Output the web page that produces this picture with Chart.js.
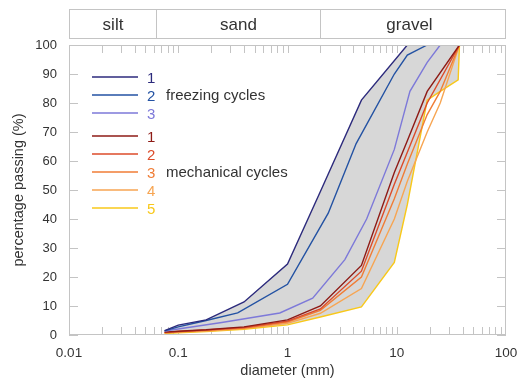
<!DOCTYPE html>
<html>
<head>
<meta charset="utf-8">
<script src="https://cdn.jsdelivr.net/npm/chart.js@4.4.1/dist/chart.umd.min.js"></script>
<style>
  html, body { margin: 0; padding: 0; background: #fff; }
</style>
</head>
<body>
<canvas id="chart" width="519" height="384"></canvas>
<script>
// axis ticks
const xTickValues = [0.01, 0.1, 1, 10, 100];
const yTickValues = [0, 10, 20, 30, 40, 50, 60, 70, 80, 90, 100];

// soil classes shown above the plot (mm)
const zoneNames = ["silt", "sand", "gravel"];
const zoneBounds = [0.01, 0.063, 2, 100];

// freezing cycles
const freeze1Size = [0.075, 0.1, 0.18, 0.4, 1, 2, 4.75, 12.5];
const freeze1Pass = [1.5, 3.4, 5.2, 11.4, 24.5, 49.5, 81, 100];
const freeze2Size = [0.075, 0.1, 0.18, 0.35, 1, 2.36, 4.25, 9.5, 12.5, 19];
const freeze2Pass = [1.4, 2.8, 5, 7.6, 17.5, 42, 66, 90, 96.5, 100];
const freeze3Size = [0.075, 0.25, 0.85, 1.7, 3.35, 5.3, 9.5, 13.2, 19, 25];
const freeze3Pass = [1.4, 4.3, 7.6, 12.7, 26, 40, 64, 84, 94, 100];

// mechanical cycles
const mechSize = [0.075, 0.1, 0.18, 0.4, 1, 2, 4.75, 9.5, 12.5, 19, 25, 37.5];
const mech1Pass = [1, 1.3, 1.8, 2.8, 5.2, 10, 24, 56, 67, 84, null, 100];
const mech2Pass = [0.9, 1.2, 1.7, 2.6, 4.8, 9, 22, 52, 63, 80, null, 100];
const mech3Pass = [0.8, 1.1, 1.6, 2.4, 4.5, 8.5, 20, 47, 59, 76, 84, 100];
const mech4Pass = [0.7, 1, 1.4, 2.2, 4, 7.5, 16, 40, 53, 70, 80, 100];
const mech5Size = [0.075, 0.1, 0.18, 0.4, 1, 2, 4.75, 9.5, 12.5, 19, 25, 36.5, 37.5];
const mech5Pass = [0.5, 0.8, 1.2, 2, 3.5, 6.2, 9.7, 25, 45, 81, 84, 88, 100];

const seriesNames = ["1", "2", "3", "1", "2", "3", "4", "5"];
const groupNames = ["freezing cycles", "mechanical cycles"];
const seriesColors = ["#2c2a7c", "#2352a3", "#7d79d9", "#8e1b16", "#dc4b2a", "#f07d36", "#f7a552", "#f8c81a"];

const FONT = "'Liberation Sans', Arial, sans-serif";
const TEXT = "#333333";
const FRAME = "#c4c4c4";

function pts(sizes, pass) {
  const out = [];
  sizes.forEach((s, i) => { if (pass[i] !== null) out.push({ x: s, y: pass[i] }); });
  return out;
}

const series = [
  pts(freeze1Size, freeze1Pass),
  pts(freeze2Size, freeze2Pass),
  pts(freeze3Size, freeze3Pass),
  pts(mechSize, mech1Pass),
  pts(mechSize, mech2Pass),
  pts(mechSize, mech3Pass),
  pts(mechSize, mech4Pass),
  pts(mech5Size, mech5Pass)
];

const datasets = series.map((d, i) => ({
  data: d,
  borderColor: seriesColors[i],
  borderWidth: 1.4,
  pointRadius: 0,
  tension: 0,
  fill: false
}));

// grey envelope between freezing 1 and mechanical 5
datasets.push({
  data: series[0].concat([{ x: mech5Size[mech5Size.length - 1], y: 100 }]),
  borderWidth: 0,
  borderColor: "rgba(0,0,0,0)",
  backgroundColor: "#d7d7d7",
  pointRadius: 0,
  tension: 0,
  fill: 7
});

const decoration = {
  id: "decoration",
  beforeDatasetsDraw(chart) {
    const { ctx, chartArea: a, scales } = chart;
    ctx.save();
    ctx.strokeStyle = FRAME;
    ctx.lineWidth = 1;
    ctx.beginPath();
    // minor ticks on log axis, inside, top and bottom
    for (let dec = 0.01; dec < 100; dec *= 10) {
      for (let k = 1; k <= 9; k++) {
        const px = Math.round(scales.x.getPixelForValue(k * dec)) + 0.5;
        ctx.moveTo(px, a.bottom); ctx.lineTo(px, a.bottom - 8);
        ctx.moveTo(px, a.top); ctx.lineTo(px, a.top + 8);
      }
    }
    yTickValues.forEach(v => {
      const py = Math.round(scales.y.getPixelForValue(v)) + 0.5;
      ctx.moveTo(a.left, py); ctx.lineTo(a.left + 9, py);
      ctx.moveTo(a.right, py); ctx.lineTo(a.right - 9, py);
    });
    ctx.stroke();
    ctx.restore();
  },
  afterDraw(chart) {
    const { ctx, chartArea: a, scales } = chart;
    ctx.save();
    ctx.strokeStyle = FRAME;
    ctx.lineWidth = 1;
    ctx.strokeRect(Math.round(a.left) + 0.5, Math.round(a.top) + 0.5,
      Math.round(a.right - a.left) - 1, Math.round(a.bottom - a.top) - 1);

    // soil class band
    const bTop = 9.5, bBot = 38.5;
    const xs = zoneBounds.map(v => Math.round(scales.x.getPixelForValue(v)) + 0.5);
    ctx.strokeRect(xs[0], bTop, xs[3] - xs[0] - 1, bBot - bTop);
    ctx.beginPath();
    ctx.moveTo(xs[1], bTop); ctx.lineTo(xs[1], bBot);
    ctx.moveTo(xs[2], bTop); ctx.lineTo(xs[2], bBot);
    ctx.stroke();
    ctx.fillStyle = TEXT;
    ctx.font = "17px " + FONT;
    ctx.textAlign = "center";
    ctx.textBaseline = "middle";
    zoneNames.forEach((n, i) => ctx.fillText(n, (xs[i] + xs[i + 1]) / 2 - (i === 2 ? 4 : 0), 25));

    // legend
    const rowY = [77, 95, 113, 136, 154, 172, 190, 208];
    ctx.lineWidth = 1.5;
    ctx.font = "15px " + FONT;
    ctx.textAlign = "left";
    seriesNames.forEach((n, i) => {
      ctx.strokeStyle = seriesColors[i];
      ctx.beginPath();
      ctx.moveTo(92, rowY[i]); ctx.lineTo(138, rowY[i]);
      ctx.stroke();
      ctx.fillStyle = seriesColors[i];
      ctx.fillText(n, 147, rowY[i] + 2);
    });
    ctx.fillStyle = TEXT;
    ctx.font = "15px " + FONT;
    ctx.fillText(groupNames[0], 166, rowY[1] + 1);
    ctx.fillText(groupNames[1], 166, rowY[5] + 1);
    ctx.restore();
  }
};

new Chart(document.getElementById("chart"), {
  type: "line",
  data: { datasets: datasets },
  options: {
    responsive: false,
    animation: false,
    layout: { padding: { left: 0, right: 13, top: 45, bottom: 0 } },
    plugins: { legend: { display: false }, tooltip: { enabled: false } },
    scales: {
      x: {
        type: "logarithmic",
        min: 0.01,
        max: 100,
        afterBuildTicks: s => { s.ticks = xTickValues.map(v => ({ value: v })); },
        afterFit: s => { s.height = 49; s.paddingLeft = 0; s.paddingRight = 0; },
        grid: { display: false, drawTicks: false },
        border: { display: false },
        ticks: {
          autoSkip: false,
          maxRotation: 0,
          padding: 10,
          color: TEXT,
          font: { family: FONT, size: 13.5 },
          callback: v => String(v)
        },
        title: {
          display: true,
          text: "diameter (mm)",
          color: TEXT,
          font: { family: FONT, size: 14.5 },
          padding: { top: 0, bottom: 4 }
        }
      },
      y: {
        min: 0,
        max: 100,
        afterBuildTicks: s => { s.ticks = yTickValues.map(v => ({ value: v })); },
        afterFit: s => { s.width = 69; s.paddingTop = 0; s.paddingBottom = 0; },
        grid: { display: false, drawTicks: false },
        border: { display: false },
        ticks: {
          padding: 12,
          color: TEXT,
          font: { family: FONT, size: 13 }
        },
        title: {
          display: true,
          text: "percentage passing (%)",
          color: TEXT,
          font: { family: FONT, size: 14.5 },
          padding: { top: 10, bottom: 0 }
        }
      }
    }
  },
  plugins: [decoration]
});
</script>
</body>
</html>
